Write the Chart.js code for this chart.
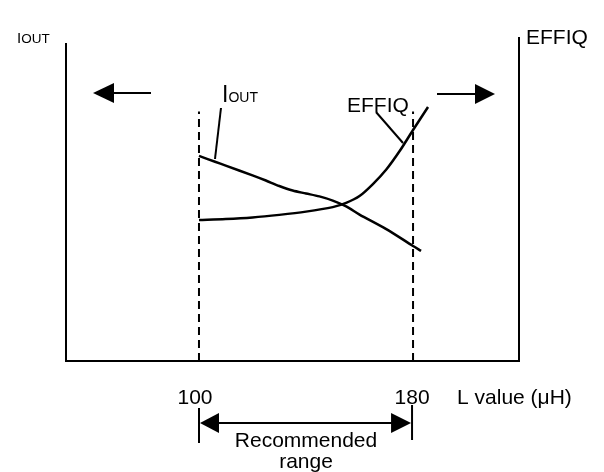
<!DOCTYPE html>
<html><head><meta charset="utf-8">
<script src="https://cdn.jsdelivr.net/npm/chart.js@4"></script>
<style>html,body{margin:0;padding:0;background:#fff;}canvas{display:block;}</style>
</head><body>
<canvas id="c" width="604" height="472"></canvas>
<script>
// Data (x = L value in µH, y = relative level, 0..100)
const ioutX = [100, 106, 110, 120, 125, 130, 135, 140, 145, 150, 155, 160, 170, 180, 183];
const ioutY = [63.3, 61.5, 60.3, 57.3, 55.7, 54.0, 52.6, 51.7, 50.8, 49.5, 47.7, 45.2, 40.7, 35.5, 34.0];
const effX  = [100, 110, 120, 130, 140, 150, 155, 160, 165, 170, 175, 180, 185.6];
const effY  = [43.5, 43.8, 44.3, 45.1, 46.1, 47.5, 48.8, 50.9, 54.6, 59.1, 64.8, 71.3, 78.4];
const rangeMarks = [100, 180];          // recommended range bounds
const tickLabels = ['100', '180'];
const dashTop = 77;                     // top of dashed range lines (y units)

const FONT = '"Liberation Sans", Arial, sans-serif';
const pts = (xs, ys) => xs.map((x, i) => ({x, y: ys[i]}));

const deco = {
  id: 'deco',
  afterDraw(chart) {
    const ctx = chart.ctx, a = chart.chartArea;
    const xs = chart.scales.x;
    ctx.save();
    ctx.strokeStyle = '#000'; ctx.fillStyle = '#000';
    ctx.lineWidth = 2; ctx.setLineDash([]);
    // axes box (left, bottom, right)
    ctx.beginPath();
    ctx.moveTo(a.left, a.top + 6); ctx.lineTo(a.left, a.bottom);
    ctx.lineTo(a.right, a.bottom); ctx.lineTo(a.right, a.top);
    ctx.stroke();

    const line = (x1, y1, x2, y2, w) => { ctx.lineWidth = w || 2; ctx.beginPath(); ctx.moveTo(x1, y1); ctx.lineTo(x2, y2); ctx.stroke(); };
    const head = (tipX, baseX, y, h) => { ctx.beginPath(); ctx.moveTo(tipX, y); ctx.lineTo(baseX, y - h); ctx.lineTo(baseX, y + h); ctx.closePath(); ctx.fill(); };

    // top arrows
    line(a.left + 30, 93, a.left + 85, 93);
    head(a.left + 27, a.left + 48, 93, 10);
    line(a.right - 82, 94, a.right - 40, 94);
    head(a.right - 24, a.right - 44, 94, 10);

    // leader lines
    const x1 = xs.getPixelForValue(rangeMarks[0]);
    const x2 = xs.getPixelForValue(rangeMarks[1]);
    line(x1 + 22, 108, x1 + 16, 159);
    line(376, 112, 403, 143);

    // bottom tick labels
    ctx.textBaseline = 'alphabetic';
    ctx.font = '21px ' + FONT;
    ctx.textAlign = 'center';
    ctx.fillText(tickLabels[0], x1 - 4, 404);
    ctx.fillText(tickLabels[1], x2 - 1, 404);
    ctx.textAlign = 'left';
    ctx.fillText('L value (\u03bcH)', x2 + 44, 404);

    // recommended range
    line(x1, 408, x1, 443);
    line(x2 - 1, 405, x2 - 1, 440);
    line(x1 + 15, 423, x2 - 16, 423);
    head(x1 + 1, x1 + 20, 423, 10);
    head(x2 - 2, x2 - 22, 423, 10);
    ctx.textAlign = 'center';
    ctx.fillText('Recommended', (x1 + x2) / 2, 447);
    ctx.fillText('range', (x1 + x2) / 2, 468);

    // labels
    ctx.textAlign = 'left';
    const iout = (x, y, big, small) => {
      ctx.font = big + 'px ' + FONT; ctx.fillText('I', x, y);
      const w = ctx.measureText('I').width;
      ctx.font = small + 'px ' + FONT; ctx.fillText('OUT', x + w, y);
    };
    iout(17, 43, 15, 13.5);
    iout(222, 102, 23, 14);
    ctx.font = '21px ' + FONT;
    ctx.fillText('EFFIQ', 347, 112);
    ctx.fillText('EFFIQ', a.right + 7, 44);
    ctx.restore();
  }
};

new Chart(document.getElementById('c'), {
  type: 'scatter',
  data: {
    datasets: [
      { data: pts(ioutX, ioutY), showLine: true, borderColor: '#000', borderWidth: 2.5, pointRadius: 0, tension: 0.3, fill: false },
      { data: pts(effX, effY), showLine: true, borderColor: '#000', borderWidth: 2.5, pointRadius: 0, tension: 0.3, fill: false },
      { data: [{x: rangeMarks[0], y: 0}, {x: rangeMarks[0], y: dashTop}], showLine: true, borderColor: '#000', borderWidth: 2, borderDash: [8, 5], pointRadius: 0 },
      { data: [{x: rangeMarks[1], y: 0}, {x: rangeMarks[1], y: dashTop}], showLine: true, borderColor: '#000', borderWidth: 2, borderDash: [8, 5], pointRadius: 0 }
    ]
  },
  options: {
    responsive: false, animation: false, devicePixelRatio: 1,
    layout: { padding: { left: 66, right: 85, top: 37, bottom: 111 } },
    plugins: { legend: { display: false }, tooltip: { enabled: false } },
    scales: {
      x: { type: 'linear', min: 50.3, max: 219.6, display: false },
      y: { type: 'linear', min: 0, max: 100, display: false }
    }
  },
  plugins: [deco]
});
</script>
</body></html>
